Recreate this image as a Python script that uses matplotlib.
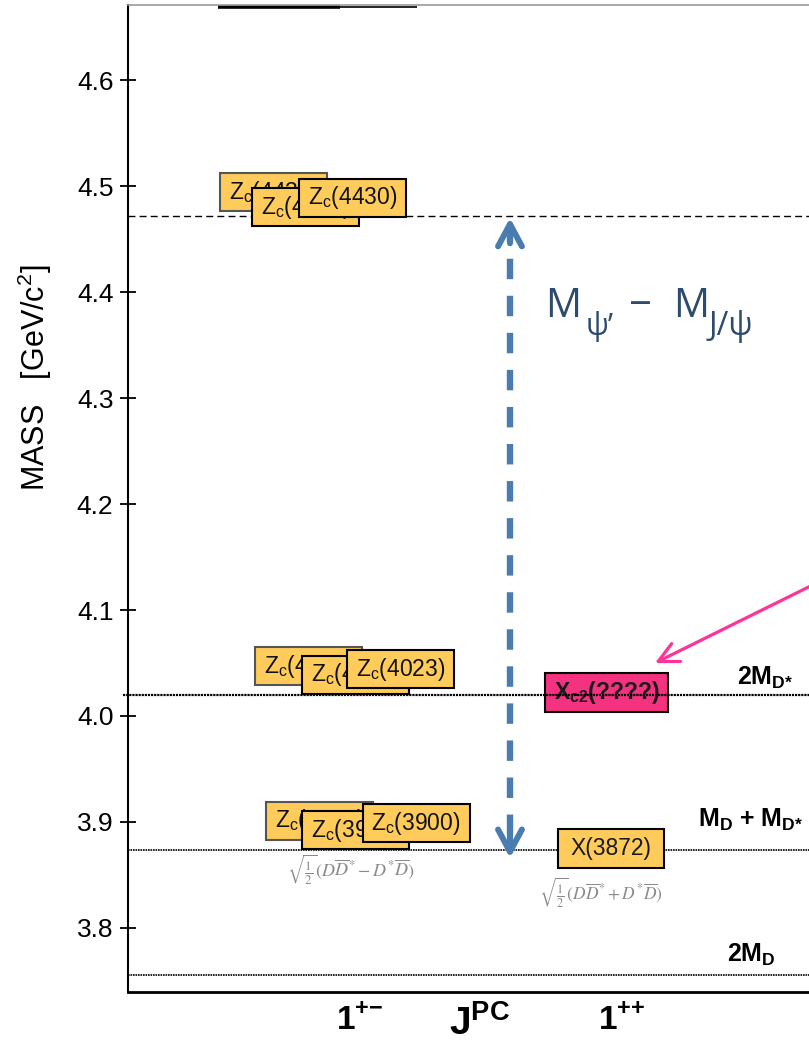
import matplotlib
matplotlib.use('Agg')
import matplotlib.pyplot as plt
import matplotlib.transforms as mtransforms
from matplotlib.patches import Rectangle

plt.rcParams['font.family'] = ['Liberation Sans', 'DejaVu Sans']

# ---- data ----
jpc_labels = ['1$^{\\mathregular{{+}{−}}}$', '1$^{\\mathregular{{+}{+}}}$']
jpc_pos = [1, 2]

# Zc states (1+-), three entries per state
zc_names = ['Z$_{\\mathregular{c}}$(4430)', 'Z$_{\\mathregular{c}}$(4023)', 'Z$_{\\mathregular{c}}$(3900)']
zc_masses = [[4.494, 4.480, 4.489],
             [4.047, 4.039, 4.044],
             [3.901, 3.892, 3.899]]

# 1++ states
x_names = ['X$_{\\mathregular{c2}}$(????)', 'X(3872)']
x_masses = [4.022, 3.875]

# thresholds
thr_names = ['2M$_{\\mathregular{D{*}}}$',
             'M$_{\\mathregular{D}}$ + M$_{\\mathregular{D{*}}}$',
             '2M$_{\\mathregular{D}}$']
thr_masses = [4.020, 3.874, 3.756]
upper_line = 4.472          # dashed line
psi_gap = [3.866, 4.470]    # M_psi' - M_J/psi arrow ends

yticks = [3.8, 3.9, 4.0, 4.1, 4.2, 4.3, 4.4, 4.5, 4.6]

# ---- layout ----
orange = '#FFCC5C'
pink = '#F4327F'
blue = '#4A7CB0'
navy = '#2D4B6D'
box_w = 0.408
box_h = 0.0358
zc_offsets = [[-0.330, -0.208, -0.027],
              [-0.197, -0.017, 0.155],
              [-0.153, -0.017, 0.214]]
x_offsets = [-0.059, -0.042]
x_widths = [0.469, 0.408]

fig = plt.figure(figsize=(8.09, 10.44), dpi=100)
ax = fig.add_axes([128 / 809, 52 / 1044, 772 / 809, 987 / 1044])
ax.set_xlim(0.1145, 3.0611)
ax.set_ylim(3.7396, 4.6708)

# horizontal reference lines
ax.axhline(upper_line, color='black', lw=1.0, ls=(0, (5, 3)), zorder=1)
ax.plot([0.095, 3.1], [thr_masses[0]] * 2, color='black', lw=1.6,
        ls=(0, (1, 0.4)), zorder=6, clip_on=False)
ax.axhline(thr_masses[1], color='black', lw=1.2, ls=(0, (1, 0.5)), zorder=1)
ax.axhline(thr_masses[2], color='black', lw=1.2, ls=(0, (1, 0.5)), zorder=1)

# cut-off boxes at the very top
ax.hlines(4.6690, 0.458, 0.924, color='black', lw=2.6, zorder=2)
ax.hlines(4.6686, 0.924, 1.218, color='black', lw=1.2, zorder=2)

# Zc boxes (they overlap on purpose, as in the original)
for name, masses, offs in zip(zc_names, zc_masses, zc_offsets):
    for i, (m, o) in enumerate(zip(masses, offs)):
        z = 3 + i
        xc = jpc_pos[0] + o
        ec = '#555555' if i == 0 else 'black'
        ax.add_patch(Rectangle((xc - box_w / 2, m - box_h / 2), box_w, box_h,
                               facecolor=orange, edgecolor=ec, lw=1.5, zorder=z))
        ax.text(xc, m, name, ha='center', va='center', fontsize=16.5,
                color='#111111', zorder=z + 0.5)

# 1++ boxes
for name, m, o, w, fc, wt in zip(x_names, x_masses, x_offsets, x_widths,
                                 [pink, orange], ['bold', 'normal']):
    xc = jpc_pos[1] + o
    h = 0.0368
    ax.add_patch(Rectangle((xc - w / 2, m - h / 2), w, h, facecolor=fc,
                           edgecolor='black', lw=1.5, zorder=3))
    ax.text(xc, m, name, ha='center', va='center', fontsize=16.5,
            fontweight=wt, color='#1a1a1a', zorder=4)

# wave function formulas
ax.text(0.9656, 3.8547, r'$\sqrt{\frac{1}{2}}(D\overline{D}^{*}-D^{*}\overline{D})$',
        ha='center', va='center', fontsize=13, color='#8a8a8a', math_fontfamily='stix')
ax.text(1.9198, 3.8330, r'$\sqrt{\frac{1}{2}}(D\overline{D}^{*}+D^{*}\overline{D})$',
        ha='center', va='center', fontsize=12.5, color='#8a8a8a', math_fontfamily='stix')

# threshold labels
for name, x, y in zip(thr_names, [2.439, 2.292, 2.400], [4.0292, 3.8957, 3.7682]):
    ax.text(x, y, name, ha='left', va='baseline', fontsize=18,
            fontweight='bold', color='black', zorder=7)

# blue double arrow (psi' - J/psi)
xa = 1.5725
ax.plot([xa, xa], [psi_gap[0] + 0.022, psi_gap[1] - 0.013], color=blue, lw=4.6,
        ls=(0, (3.2, 2.6)), zorder=2)
for tip, tail in [(psi_gap[1], psi_gap[1] - 0.024), (psi_gap[0], psi_gap[0] + 0.024)]:
    ax.annotate('', xy=(xa, tip), xytext=(xa, tail),
                arrowprops=dict(arrowstyle='->,head_length=0.8,head_width=0.43',
                                color=blue, lw=4.3, shrinkA=0, shrinkB=0,
                                mutation_scale=20, joinstyle='round', capstyle='round'),
                zorder=2)

# M_psi' - M_J/psi, built from pieces so the subscripts keep their size
for txt, x, y, fs in [('M', 1.706, 4.3764, 29), ('ψ’', 1.860, 4.3594, 22),
                      ('−', 2.025, 4.3764, 29), ('M', 2.1947, 4.3764, 29),
                      ('J/ψ', 2.332, 4.3594, 23)]:
    ax.text(x, y, txt, family='Open Sans', fontsize=fs, color=navy,
            ha='left', va='baseline')

# pink arrow
ax.annotate('', xy=(2.126, 4.050), xytext=(2.870, 4.141),
            arrowprops=dict(arrowstyle='->,head_length=0.72,head_width=0.36',
                            color='#FF3399', lw=2.3, shrinkA=0, shrinkB=0,
                            mutation_scale=20),
            annotation_clip=False, zorder=5)

# axes styling
ax.spines['right'].set_visible(False)
ax.spines['top'].set_color('#999999')
ax.spines['top'].set_linewidth(1.2)
ax.spines['left'].set_linewidth(1.5)
ax.spines['bottom'].set_linewidth(2.0)

ax.set_yticks(yticks)
ax.set_yticklabels([f'{t:.1f}' for t in yticks])
ax.tick_params(axis='y', direction='inout', length=11, width=1.3, labelsize=19, pad=5)
ax.set_xticks(jpc_pos)
ax.set_xticklabels(jpc_labels)
ax.tick_params(axis='x', length=0, labelsize=24, pad=10)
for lbl in ax.get_xticklabels():
    lbl.set_fontweight('bold')

trans = mtransforms.blended_transform_factory(ax.transData, fig.transFigure)
ax.text(1.458, 0.001, 'J$^{\\mathregular{PC}}$', transform=trans, ha='center',
        va='bottom', fontsize=28, fontweight='bold')

fig.text(35 / 809, (1044 - 378) / 1044, 'MASS   [GeV/c$^{\\mathregular{2}}$]',
         rotation=90, ha='center', va='center', fontsize=22)

fig.savefig('out.png', dpi=100)
